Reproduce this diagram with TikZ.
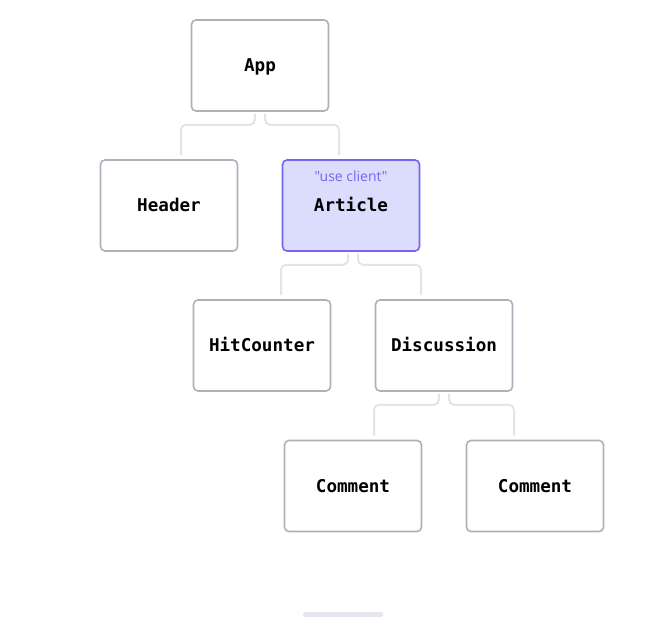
\documentclass[tikz,border=0pt]{standalone}
\usepackage{fontspec}
\newfontfamily\boxmono{DejaVu Sans Mono}
\newfontfamily\tagfont{Open Sans}
\definecolor{boxborder}{HTML}{B0B0BA}
\definecolor{connline}{HTML}{E3E3E9}
\definecolor{clientfill}{HTML}{DCDCFD}
\definecolor{clientborder}{HTML}{7564F2}
\definecolor{clienttext}{HTML}{7466F0}
\definecolor{barfill}{HTML}{E6E6ED}
\begin{document}
\begin{tikzpicture}[x=1pt,y=-1pt,
  comp/.style={draw=boxborder, line width=1.6pt, fill=white, rounded corners=4.5pt,
    minimum width=137pt, minimum height=91pt, inner sep=0pt,
    text height=12.7pt, text depth=0pt,
    font=\boxmono\bfseries\fontsize{17.6}{20}\selectfont},
  clientbox/.style={comp, draw=clientborder, fill=clientfill},
  tagtext/.style={font=\tagfont\fontsize{14}{16}\selectfont, text=clienttext, inner sep=0pt},
  conn/.style={draw=connline, line width=2pt, rounded corners=5pt}]
\useasboundingbox (0,0) rectangle (655,617);
\node[comp] (app) at (260,65.5) {App};
\node[comp] (header) at (169,205.5) {Header};
\node[clientbox] (article) at (351,205.5) {};
\node[inner sep=0pt, text height=12.7pt, text depth=0pt, font=\boxmono\bfseries\fontsize{17.6}{20}\selectfont] (articlelabel) at (351,205.5) {Article};
\node[tagtext] (useclient) at (351,176) {"use client"};
\node[comp] (hitcounter) at (262,345.5) {HitCounter};
\node[comp] (discussion) at (444,345.5) {Discussion};
\node[comp] (commenta) at (353,486) {Comment};
\node[comp] (commentb) at (535,486) {Comment};
% connectors
\draw[conn] ([xshift=-5pt,yshift=-2pt]app.south) -- ++(0,11) -| ([xshift=12pt,yshift=4pt]header.north);
\draw[conn] ([xshift=5pt,yshift=-2pt]app.south) -- ++(0,11) -| ([xshift=-12pt,yshift=4pt]article.north);
\draw[conn] ([xshift=-3pt,yshift=-2pt]article.south) -- ++(0,11) -| ([xshift=19pt,yshift=4pt]hitcounter.north);
\draw[conn] ([xshift=7pt,yshift=-2pt]article.south) -- ++(0,11) -| ([xshift=-23pt,yshift=4pt]discussion.north);
\draw[conn] ([xshift=-5pt,yshift=-2pt]discussion.south) -- ++(0,11) -| ([xshift=21pt,yshift=4pt]commenta.north);
\draw[conn] ([xshift=5pt,yshift=-2pt]discussion.south) -- ++(0,11) -| ([xshift=-21pt,yshift=4pt]commentb.north);
% bottom bar
\fill[barfill, rounded corners=1.5pt] (303,612) rectangle (383,617);
\end{tikzpicture}
\end{document}
